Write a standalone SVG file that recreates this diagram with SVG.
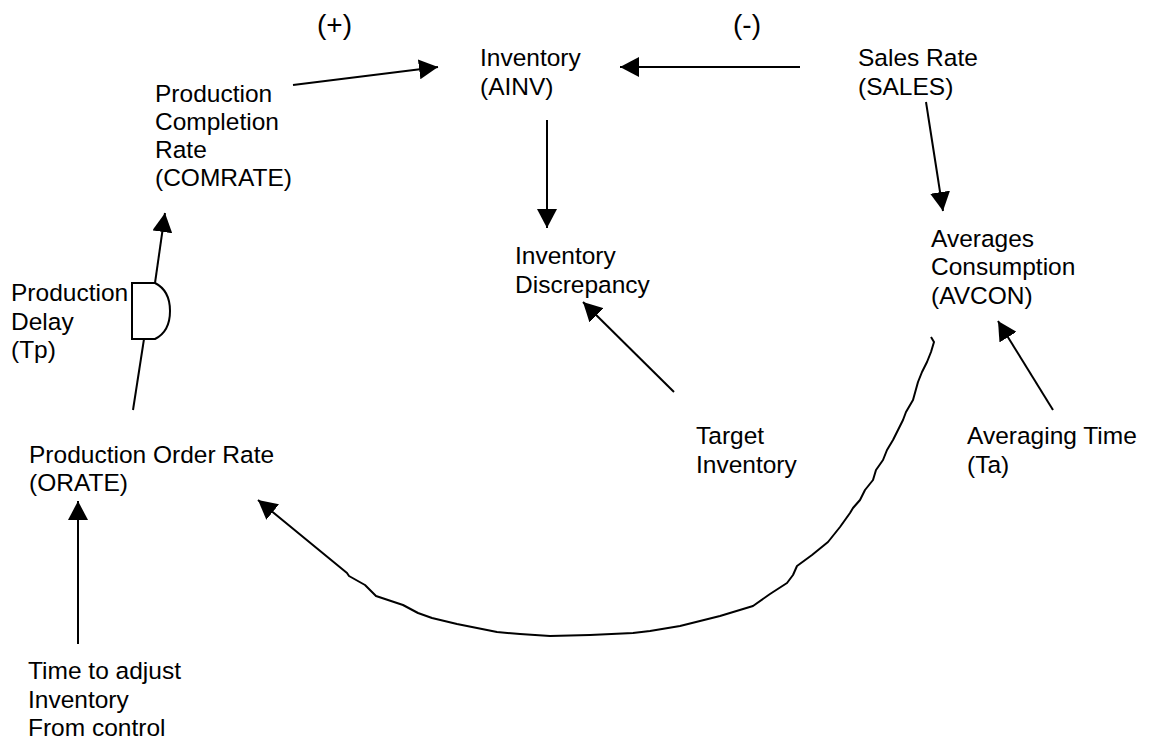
<svg xmlns="http://www.w3.org/2000/svg" width="1153" height="744" viewBox="0 0 1153 744">
<style>
text{font-family:"Liberation Sans",Arial,sans-serif;font-size:24.5px;fill:#000}
text.big{font-size:28px}
.c{fill:none;stroke:#000;stroke-width:2;stroke-linejoin:round;stroke-linecap:butt}
.a{marker-end:url(#ah)}
</style>
<defs>
<marker id="ah" markerUnits="userSpaceOnUse" markerWidth="20" markerHeight="20" viewBox="0 0 20 20" refX="19" refY="10" orient="auto">
<path d="M0,0 L19,10 L0,20 Z" fill="#000"/>
</marker>
</defs>
<rect width="1153" height="744" fill="#fff"/>
<g id="connectors">
<line class="c a" x1="293" y1="85" x2="438" y2="67"/>
<line class="c a" x1="800" y1="67" x2="620" y2="67"/>
<line class="c a" x1="547" y1="120" x2="547" y2="228"/>
<line class="c a" x1="926" y1="102" x2="943" y2="211"/>
<line class="c a" x1="674" y1="392" x2="583" y2="302"/>
<line class="c a" x1="1053" y1="410" x2="998" y2="321"/>
<line class="c" x1="133" y1="410" x2="144" y2="339"/>
<line class="c a" x1="155" y1="283" x2="165" y2="213"/>
<line class="c a" x1="78" y1="644" x2="78" y2="501"/>
<path class="c a" d="M931,337 L934,342 L931,352 L927,362 L922,372 L918,382 L913,400 L906,412 L903,420 L898,430 L893,440 L887,450 L883,460 L876,470 L873,480 L865,490 L860,500 L853,508 L850,513 L840,527 L828,542 L812,555 L797,566 L793,575 L787,583 L770,594 L753,606 L720,616 L680,626 L650,631 L633,633 L590,635 L550,636 L520,634 L497,632 L457,624 L432,618 L418,613 L403,605 L376,596 L365,585 L349,576 L347,573 L258,500"/>
</g>
<g id="delay">
<path d="M132,283 H155 C165,288 170,298 170,311 C170,324 165,334 155,339 H132 Z" fill="#fff" stroke="#000" stroke-width="2"/>
</g>
<g id="plus"><text class="big" x="317" y="34">(+)</text></g>
<g id="minus"><text class="big" x="733" y="34">(-)</text></g>
<g id="comrate"><text x="155" y="102">Production</text><text x="155" y="130">Completion</text><text x="155" y="158">Rate</text><text x="155" y="186">(COMRATE)</text></g>
<g id="ainv"><text x="480" y="66">Inventory</text><text x="480" y="95">(AINV)</text></g>
<g id="sales"><text x="858" y="66">Sales Rate</text><text x="858" y="95">(SALES)</text></g>
<g id="discrepancy"><text x="515" y="264">Inventory</text><text x="515" y="293">Discrepancy</text></g>
<g id="avcon"><text x="931" y="247">Averages</text><text x="931" y="275">Consumption</text><text x="931" y="304">(AVCON)</text></g>
<g id="tp"><text x="11" y="301">Production</text><text x="11" y="330">Delay</text><text x="11" y="358">(Tp)</text></g>
<g id="target"><text x="696" y="444">Target</text><text x="696" y="473">Inventory</text></g>
<g id="ta"><text x="967" y="444">Averaging Time</text><text x="967" y="473">(Ta)</text></g>
<g id="orate"><text x="29" y="463">Production Order Rate</text><text x="29" y="491">(ORATE)</text></g>
<g id="adjust"><text x="28" y="679">Time to adjust</text><text x="28" y="708">Inventory</text><text x="28" y="736">From control</text></g>
</svg>
